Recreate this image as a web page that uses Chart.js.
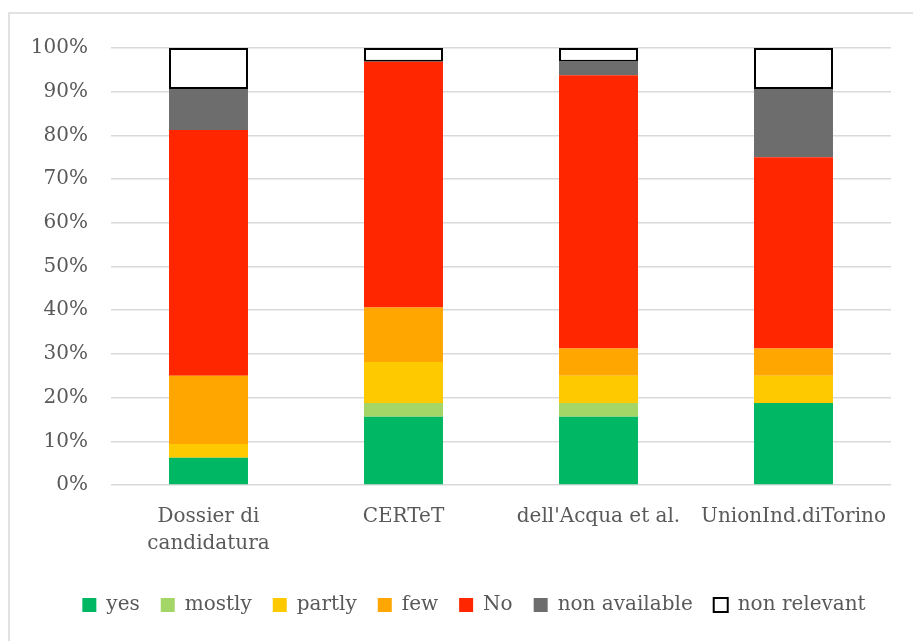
<!DOCTYPE html>
<html>
<head>
<meta charset="utf-8">
<script src="https://cdn.jsdelivr.net/npm/chart.js@4/dist/chart.umd.min.js"></script>
<style>
  html, body { margin: 0; padding: 0; background: #ffffff; overflow: hidden; }
  #wrap { position: relative; width: 913px; height: 641px; }
  #frame { position: absolute; left: 8px; top: 12px; width: 920px; height: 650px;
           border: 2px solid #e2e2e2; box-sizing: border-box; pointer-events: none; }
  canvas { position: absolute; left: 0; top: 0; }
</style>
</head>
<body>
<div id="wrap">
  <canvas id="chart" width="913" height="641"></canvas>
  <div id="frame"></div>
</div>
<script>
// Share of answers per source (percent of items)
const categories = [['Dossier di', 'candidatura'], 'CERTeT', "dell'Acqua et al.", 'UnionInd.diTorino'];
const yesValues           = [6.25, 15.625, 15.625, 18.75];
const mostlyValues        = [0, 3.125, 3.125, 0];
const partlyValues        = [3.125, 9.375, 6.25, 6.25];
const fewValues           = [15.625, 12.5, 6.25, 6.25];
const noValues            = [56.25, 56.25, 62.5, 43.75];
const nonAvailableValues  = [9.375, 0, 3.125, 15.625];
const nonRelevantValues   = [9.375, 3.125, 3.125, 9.375];
const yTicks = [0, 10, 20, 30, 40, 50, 60, 70, 80, 90, 100];

const font = { family: "'DejaVu Serif', serif", size: 20 };
const textColor = '#595959';

function ds(label, data, color, border) {
  return {
    label: label,
    data: data,
    backgroundColor: color,
    borderColor: border || color,
    borderWidth: border ? 2 : 0,
    borderSkipped: false,
    categoryPercentage: 1,
    barPercentage: 0.405
  };
}

// Centre the legend row inside the framed area rather than the full canvas
const legendShift = {
  id: 'legendShift',
  afterLayout(chart) {
    if (chart.legend) { chart.legend.left = 57; }
  }
};

new Chart(document.getElementById('chart'), {
  type: 'bar',
  data: {
    labels: categories,
    datasets: [
      ds('yes', yesValues, '#00B763'),
      ds('mostly', mostlyValues, '#A4D567'),
      ds('partly', partlyValues, '#FFC900'),
      ds('few', fewValues, '#FFA600'),
      ds('No', noValues, '#FF2600'),
      ds('non available', nonAvailableValues, '#6D6D6D'),
      ds('non relevant', nonRelevantValues, '#FFFFFF', '#000000')
    ]
  },
  plugins: [legendShift],
  options: {
    responsive: false,
    devicePixelRatio: 1,
    animation: false,
    layout: { padding: { left: 0, right: 22, top: 48, bottom: 16 } },
    plugins: {
      tooltip: { enabled: false },
      legend: {
        position: 'bottom',
        labels: {
          color: textColor,
          font: font,
          boxWidth: 14,
          boxHeight: 14,
          padding: 21
        }
      }
    },
    scales: {
      x: {
        stacked: true,
        grid: { display: false, drawTicks: false },
        border: { display: false },
        ticks: {
          color: textColor,
          font: { family: font.family, size: 20, lineHeight: 1.35 },
          padding: 18,
          maxRotation: 0,
          autoSkip: false
        },
        afterFit: function (scale) { scale.height = 89; }
      },
      y: {
        stacked: true,
        min: 0,
        max: 100,
        afterBuildTicks: function (scale) {
          scale.ticks = yTicks.map(function (v) { return { value: v }; });
        },
        grid: { color: '#d9d9d9', lineWidth: 1.5, drawTicks: false },
        border: { display: false },
        ticks: {
          color: textColor,
          font: font,
          padding: 23,
          callback: function (v) { return v + '%'; }
        },
        afterFit: function (scale) { scale.width = 111; }
      }
    }
  }
});
</script>
</body>
</html>
